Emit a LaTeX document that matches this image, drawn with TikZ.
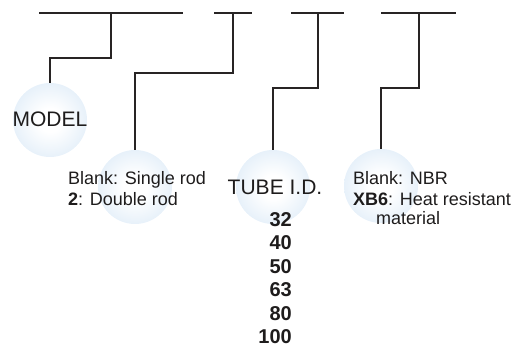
\documentclass[tikz,border=0pt]{standalone}
\usepackage{fontspec}
\setmainfont{Liberation Sans}
\usetikzlibrary{positioning}
\definecolor{ballblue}{RGB}{196,220,242}
\definecolor{leadgray}{RGB}{40,36,36}
\definecolor{inkgray}{RGB}{30,28,28}
\pgfdeclareradialshading{ballshade}{\pgfpoint{0bp}{0bp}}{%
  color(0bp)=(white); color(8bp)=(white); color(50bp)=(ballblue); color(100bp)=(ballblue)}
\begin{document}
\begin{tikzpicture}[
  x=1pt, y=-1pt, % 像素坐标:原点左上角,y 向下
  ball/.style={circle, minimum size=74pt, inner sep=0pt, shading=ballshade},
  lead/.style={draw=leadgray, line width=1.2pt},
  title/.style={font=\fontsize{21}{25}\selectfont, text=inkgray, inner sep=0pt, anchor=base},
  desc/.style={font=\fontsize{18}{21}\selectfont, text=inkgray, inner sep=0pt, anchor=base west},
  size/.style={font=\bfseries\fontsize{20}{24}\selectfont, text=inkgray, inner sep=0pt, anchor=base east}
]
  \useasboundingbox (0,0) rectangle (518,347);

  % 型号代码的空位(横线)及引出点
  \foreach \n/\a/\b/\t in {1/39/183/111, 2/214/252/233, 3/291/344/318, 4/381/456/419} {
    \coordinate (s\n a) at (\a,13);
    \coordinate (s\n b) at (\b,13);
    \coordinate (t\n) at (\t,13);
    \draw[lead] (s\n a) -- (s\n b);
  }

  % 说明圆
  \node[ball] (model) at (50,120) {};
  \node[ball] (rod)   at (135,187) {};
  \node[ball] (bore)  at (273,187) {};
  \node[ball] (seal)  at (381,186) {};

  % 引线
  \draw[lead] (t1) -- ++(0,45) -| (model.north);
  \draw[lead] (t2) -- ++(0,60) -| (rod.north);
  \draw[lead] (t3) -- ++(0,75) -| (bore.north);
  \draw[lead] (t4) -- ++(0,75) -| (seal.north);

  % 文字
  \node[title] (modeltxt) at (50,127) {MODEL};
  \node[title] (boretxt)  at (275,194) {TUBE I.D.};

  \node[desc] (rod1) at (68,184) {Blank: Single rod};
  \node[desc] (rod2) at (68,205) {\textbf{2}: Double rod};

  \foreach [count=\i] \d in {32,40,50,63,80,100} {
    \node[size] (d\i) at (292,{202.5+23.5*\i}) {\d}; % 缸径
  }

  \node[desc] (seal1) at (353,185) {Blank: NBR};
  \node[desc] (seal2) at (353,205) {\textbf{XB6}: Heat resistant};
  \node[desc] (seal3) at (376,224) {material};
\end{tikzpicture}
\end{document}
